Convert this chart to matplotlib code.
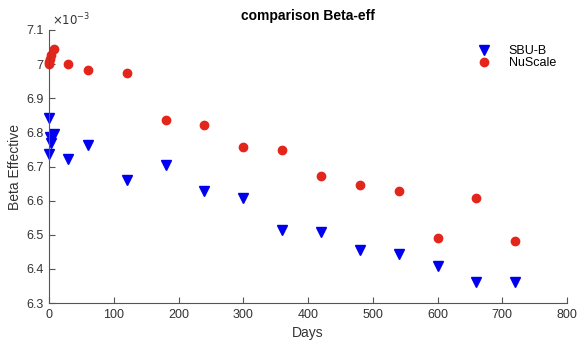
import matplotlib.pyplot as plt
from matplotlib.ticker import FormatStrFormatter

plt.rcParams['font.family'] = ['Liberation Sans', 'DejaVu Sans']

# beta effective values, in units of 1e-3
days = [0, 0.5, 1, 3, 7, 30, 60, 120, 180, 240, 300, 360, 420, 480, 540, 600, 660, 720]
sbu_b = [6.843, 6.738, 6.787, 6.768, 6.794, 6.722, 6.762, 6.660, 6.703, 6.628, 6.608,
         6.513, 6.508, 6.455, 6.445, 6.407, 6.363, 6.362]
nuscale = [7.000, 7.005, 7.014, 7.027, 7.044, 7.001, 6.982, 6.975, 6.836, 6.821, 6.757,
           6.748, 6.671, 6.646, 6.627, 6.490, 6.607, 6.481]

x_ticks = [0, 100, 200, 300, 400, 500, 600, 700, 800]
y_ticks = [6.3, 6.4, 6.5, 6.6, 6.7, 6.8, 6.9, 7.0, 7.1]

fig = plt.figure(figsize=(5.78, 3.43), dpi=100)
ax = fig.add_axes([49 / 578, 1 - 303 / 343, (567 - 49) / 578, (303 - 30) / 343])

ax.plot(days, sbu_b, 'v', color='#0000f0', markersize=6.5, linestyle='none',
        label='SBU-B', clip_on=False)
ax.plot(days, nuscale, 'o', color='#e3261b', markersize=6, linestyle='none',
        label='NuScale', clip_on=False)

ax.set_xlim(0, 800)
ax.set_ylim(6.3, 7.1)
ax.set_xticks(x_ticks)
ax.set_yticks(y_ticks)
ax.yaxis.set_major_formatter(FormatStrFormatter('%g'))

for side in ['top', 'right']:
    ax.spines[side].set_visible(False)
for side in ['left', 'bottom']:
    ax.spines[side].set_color('#555555')
    ax.spines[side].set_linewidth(0.8)
ax.tick_params(direction='in', length=4, width=0.8, color='#555555',
               labelsize=9, labelcolor='#333333', pad=4)

ax.text(0.005, 1.005, r'$\times10^{-3}$', transform=ax.transAxes, fontsize=8.5,
        color='#333333', va='bottom', ha='left')

ax.set_title('comparison Beta-eff', fontsize=10, fontweight='bold', pad=7)
ax.set_xlabel('Days', fontsize=10, color='#333333', labelpad=4)
ax.set_ylabel('Beta Effective', fontsize=10, color='#333333', labelpad=3)

leg = ax.legend(loc='upper right', bbox_to_anchor=(1.0, 0.985), frameon=False,
                fontsize=9, handletextpad=1.0, labelspacing=0.0)

plt.savefig('out.png', dpi=100)
